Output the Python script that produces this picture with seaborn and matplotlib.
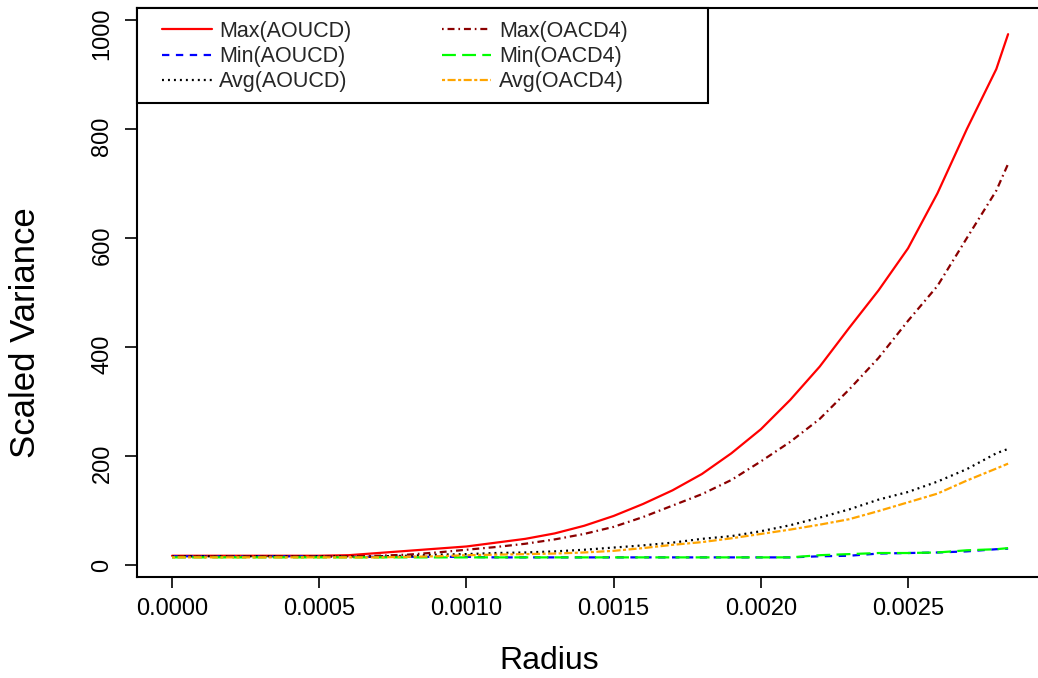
import numpy as np
import pandas as pd
import matplotlib
matplotlib.use("Agg")
import matplotlib.pyplot as plt
import matplotlib.transforms as mtransforms
from matplotlib.patches import Rectangle
import seaborn as sns

# ---- data ----
radius = [0.0000, 0.0001, 0.0002, 0.0003, 0.0004, 0.0005, 0.0006, 0.0007, 0.0008, 0.0009,
          0.0010, 0.0011, 0.0012, 0.0013, 0.0014, 0.0015, 0.0016, 0.0017, 0.0018, 0.0019,
          0.0020, 0.0021, 0.0022, 0.0023, 0.0024, 0.0025, 0.0026, 0.0027, 0.0028, 0.00284]

max_aoucd = [17, 17, 17, 17, 17, 17, 18, 22, 26, 30,
             34, 41, 48, 58, 72, 90, 112, 137, 167, 205,
             249, 303, 364, 435, 504, 581, 682, 800, 910, 974]
min_aoucd = [16, 16, 16, 16, 16, 16, 15, 15, 15, 15,
             15, 14, 14, 14, 14, 14, 14, 14, 14, 14,
             14, 14, 16, 17, 21, 22, 23, 25, 29, 30]
avg_aoucd = [16, 16, 16, 16, 16, 16, 16, 16, 17, 19,
             20, 22, 23, 25, 28, 32, 36, 41, 48, 53,
             62, 73, 87, 102, 120, 134, 153, 176, 205, 213]
max_oacd4 = [16, 16, 16, 16, 16, 16, 16, 17, 19, 23,
             28, 33, 39, 47, 57, 70, 88, 109, 130, 156,
             190, 226, 268, 322, 380, 448, 512, 600, 687, 736]
min_oacd4 = [14, 14, 14, 14, 14, 14, 14, 14, 14, 14,
             14, 14, 14, 14, 14, 14, 14, 14, 14, 14,
             14, 14, 18, 20, 22, 22, 23, 27, 29, 31]
avg_oacd4 = [14, 14, 14, 14, 14, 14, 14, 14, 15, 16,
             18, 19, 20, 21, 23, 26, 31, 37, 42, 49,
             57, 65, 74, 84, 99, 115, 131, 155, 177, 186]

series_names = ["Max(AOUCD)", "Min(AOUCD)", "Avg(AOUCD)",
                "Max(OACD4)", "Min(OACD4)", "Avg(OACD4)"]
series_vals = [max_aoucd, min_aoucd, avg_aoucd, max_oacd4, min_oacd4, avg_oacd4]
colors = ["#FF0000", "#0000FF", "#000000", "#8B0000", "#00FF00", "#FFA500"]
dash_patterns = [None, (5.3, 4.7), (1.4, 2.9), (1.2, 2.8, 5.0, 2.8), (10.0, 4.5), (2.2, 1.8, 5.8, 1.8)]

x_ticks = [0.0000, 0.0005, 0.0010, 0.0015, 0.0020, 0.0025]
x_tick_labels = ["0.0000", "0.0005", "0.0010", "0.0015", "0.0020", "0.0025"]
y_ticks = [0, 200, 400, 600, 800, 1000]
y_tick_labels = ["0", "200", "400", "600", "800", "1000"]

# ---- style ----
sns.set_theme(style="ticks")
plt.rcParams["font.family"] = ["Liberation Sans", "DejaVu Sans"]
plt.rcParams["lines.scale_dashes"] = False

W, H = 1038, 678
fig = plt.figure(figsize=(W / 100, H / 100), dpi=100)
fig.patch.set_facecolor("white")
left_px, right_px, top_px, bottom_px = 137, 1041, 8, 577
ax = fig.add_axes([left_px / W, 1 - bottom_px / H, (right_px - left_px) / W, (bottom_px - top_px) / H])
ax.set_facecolor("white")

df = pd.DataFrame({"Radius": np.tile(radius, len(series_names)),
                   "value": np.concatenate(series_vals),
                   "series": np.repeat(series_names, len(radius))})

for name, col, dsh in zip(series_names, colors, dash_patterns):
    sub = df[df["series"] == name]
    sns.lineplot(data=sub, x="Radius", y="value", color=col, lw=1.6, ax=ax, label=name, legend=False)
    ln = ax.lines[-1]
    if dsh is not None:
        ln.set_dashes(dsh)

ax.set_xlim(-0.000119, (right_px - 172) / 294400)
ax.set_ylim(-22, 1022)

ax.set_xticks(x_ticks)
ax.set_xticklabels(x_tick_labels, fontsize=17)
ax.set_yticks(y_ticks)
ax.set_yticklabels(y_tick_labels, fontsize=17, rotation=90, va="center")
ax.tick_params(axis="x", length=8, width=1.2, pad=7, color="black", labelcolor="black")
ax.tick_params(axis="y", length=9, width=1.2, pad=8, color="black", labelcolor="black")

# y tick labels sit slightly below their ticks in the reference
y_offsets_px = [0, 7, 7, 7, 7, 14]
for lab, off in zip(ax.get_yticklabels(), y_offsets_px):
    lab.set_transform(lab.get_transform() + mtransforms.ScaledTranslation(0, -off / 100, fig.dpi_scale_trans))

for s in ax.spines.values():
    s.set_linewidth(1.5)
    s.set_color("black")

ax_w = right_px - left_px
ax_h = bottom_px - top_px
ax.set_xlabel("Radius", fontsize=23, color="black")
ax.set_ylabel("Scaled Variance", fontsize=25, color="black")
ax.xaxis.set_label_coords((549 - left_px) / ax_w, (bottom_px - 646) / ax_h)
ax.yaxis.set_label_coords((42 - left_px) / ax_w, (bottom_px - 333) / ax_h)

# legend box (frame drawn as a patch, entries via matplotlib legend)
frame = Rectangle((0, (bottom_px - 103) / ax_h), (708 - left_px) / ax_w, (103 - top_px) / ax_h,
                  transform=ax.transAxes, facecolor="white", edgecolor="black", lw=1.5,
                  zorder=3, clip_on=False)
ax.add_patch(frame)

handles = ax.lines[:6]
leg = ax.legend(handles, series_names, ncol=2, frameon=False,
                loc="upper left",
                bbox_to_anchor=((162 - left_px) / ax_w, (bottom_px - 21) / ax_h),
                borderpad=0, borderaxespad=0, fontsize=15.5,
                handlelength=2.3, handletextpad=0.35, columnspacing=4.2,
                labelspacing=0.19)
leg.set_zorder(4)

fig.savefig("out.png", dpi=100, facecolor="white")
